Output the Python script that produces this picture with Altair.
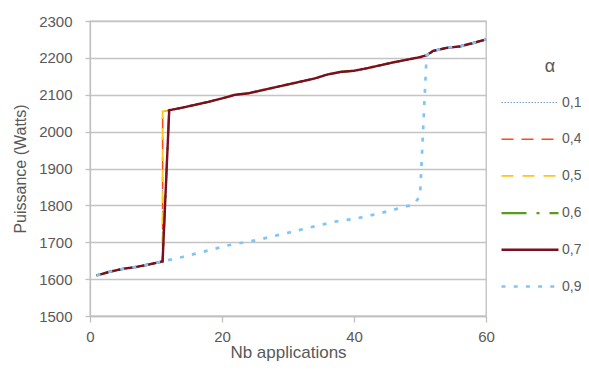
import altair as alt
import pandas as pd

# Series identifiers (legend labels) and styles
alphas = ["0,1", "0,4", "0,5", "0,6", "0,7", "0,9"]
colors = ["#7C9DCB", "#FF4A14", "#FFC51C", "#5A9A22", "#7A0F22", "#80C4F8"]
dashes = [[1.5, 1.5], [12, 8], [12, 9], [25, 10, 3, 10], [1, 0], [4, 8.2]]
widths = [1.2, 2.7, 2.7, 2.7, 3, 4.6]

# Lower common segment (all series)
low_x = [1, 3, 5, 7, 9, 11]
low_y = [1610, 1620, 1628, 1633, 1640, 1648]

# Top of the jump at x=11 for 0,1 / 0,4 / 0,5
jump_x = [11]
jump_y = [2055]

# Upper common segment
up_x = [12, 14, 16, 18, 20, 22, 24, 26, 28, 30, 32, 34, 36, 38, 40, 42, 44, 46, 48, 50,
        51, 52, 54, 56, 58, 60]
up_y = [2058, 2065, 2073, 2081, 2090, 2100, 2104, 2112, 2120, 2128, 2136, 2144, 2155, 2162,
        2165, 2172, 2180, 2188, 2195, 2202, 2207, 2219, 2227, 2231, 2240, 2250]

# Middle lower segment for 0,9
mid_x = [14, 18, 21, 25, 27, 31, 34, 38, 40, 44, 46, 48, 49, 50]
mid_y = [1660, 1678, 1692, 1705, 1713, 1730, 1743, 1759, 1763, 1779, 1788, 1798, 1801, 1825]

paths = {
    "0,1": (low_x + jump_x + up_x, low_y + jump_y + up_y),
    "0,4": (low_x + jump_x + up_x, low_y + jump_y + up_y),
    "0,5": (low_x + jump_x + up_x, low_y + jump_y + up_y),
    "0,6": (low_x + up_x, low_y + up_y),
    "0,7": (low_x + up_x, low_y + up_y),
    "0,9": (low_x + mid_x + [x for x in up_x if x >= 51],
            low_y + mid_y + [y for x, y in zip(up_x, up_y) if x >= 51]),
}

rows = []
for a in alphas:
    xs, ys = paths[a]
    for i, (x, y) in enumerate(zip(xs, ys)):
        rows.append({"alpha": a, "n": x, "p": y, "i": i})
df = pd.DataFrame(rows)

FONT = "Liberation Sans"
TXT = "#595959"
GRID = "#C4C4C4"

leg = alt.Legend(
    title="α", orient="none", legendX=429, legendY=37,
    symbolType="M-3,0H3", symbolSize=361, labelOffset=21, rowPadding=18.7,
    labelFontSize=14, labelColor=TXT, titleFontSize=18, titleColor=TXT,
    titleFontWeight="normal", titleAnchor="middle", titlePadding=16, padding=0,
    labelFont=FONT, titleFont=FONT,
)

chart = alt.Chart(df).mark_line().encode(
    x=alt.X("n:Q", title="Nb applications",
            scale=alt.Scale(domain=[0, 60], nice=False),
            axis=alt.Axis(values=[0, 20, 40, 60], grid=False, tickSize=6,
                          labelPadding=7, titlePadding=0, labelFontSize=15,
                          titleFontSize=17, format="d", labelFlush=False)),
    y=alt.Y("p:Q", title="Puissance (Watts)",
            scale=alt.Scale(domain=[1500, 2300], nice=False, zero=False),
            axis=alt.Axis(values=list(range(1500, 2301, 100)), grid=True, tickSize=5,
                          labelPadding=13, titlePadding=10, labelFontSize=15,
                          titleFontSize=16, format="d", labelFlush=False)),
    color=alt.Color("alpha:N", scale=alt.Scale(domain=alphas, range=colors), legend=leg),
    strokeDash=alt.StrokeDash("alpha:N", scale=alt.Scale(domain=alphas, range=dashes), legend=leg),
    strokeWidth=alt.StrokeWidth("alpha:N", scale=alt.Scale(domain=alphas, range=widths), legend=leg),
    order=alt.Order("i:Q"),
).properties(
    width=396, height=295,
    autosize=alt.AutoSizeParams(type="none"),
    padding={"left": 82, "top": 13, "right": 95, "bottom": 46},
).configure(
    font=FONT,
).configure_view(
    stroke="#BFBFBF", strokeWidth=1.3,
).configure_axis(
    domainColor="#BFBFBF", domainWidth=1.3, tickColor="#BFBFBF", tickWidth=1.3,
    gridColor=GRID, gridWidth=1.3, labelColor=TXT, titleColor=TXT,
    titleFontWeight="normal", labelFont=FONT, titleFont=FONT,
)

chart.save("out.html", embed_options={"renderer": "svg", "actions": False})
